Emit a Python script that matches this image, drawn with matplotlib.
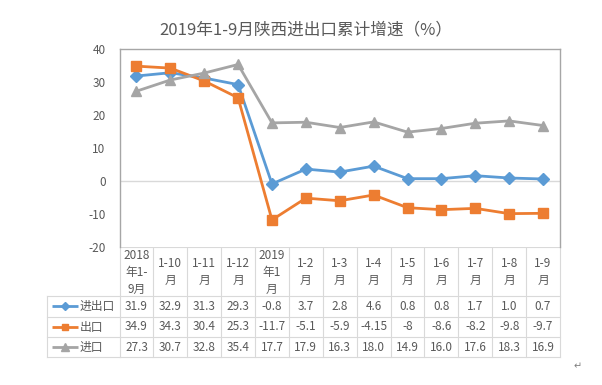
import matplotlib
matplotlib.use('Agg')
import matplotlib.pyplot as plt
import matplotlib.transforms as mtransforms

plt.rcParams['font.family'] = ['Noto Sans CJK SC', 'DejaVu Sans']

# ---------------- data ----------------
categories = ["2018\n年1-\n9月", "1-10\n月", "1-11\n月", "1-12\n月", "2019\n年1\n月",
              "1-2\n月", "1-3\n月", "1-4\n月", "1-5\n月", "1-6\n月", "1-7\n月", "1-8\n月", "1-9\n月"]
series_names = ["进出口", "出口", "进口"]
total_vals = [31.9, 32.9, 31.3, 29.3, -0.8, 3.7, 2.8, 4.6, 0.8, 0.8, 1.7, 1.0, 0.7]
export_vals = [34.9, 34.3, 30.4, 25.3, -11.7, -5.1, -5.9, -4.15, -8, -8.6, -8.2, -9.8, -9.7]
import_vals = [27.3, 30.7, 32.8, 35.4, 17.7, 17.9, 16.3, 18.0, 14.9, 16.0, 17.6, 18.3, 16.9]
y_ticks = [-20, -10, 0, 10, 20, 30, 40]
title = "2019年1-9月陕西进出口累计增速（%）"

series = [total_vals, export_vals, import_vals]
colors = ["#5b9bd5", "#ed7d31", "#a5a5a5"]
markers = ["D", "s", "^"]
msizes = [6, 6.5, 7.5]

TXT = "#595959"
GRID = "#d9d9d9"
FRAME = "#a6a6a6"

W, H = 602, 385
fig = plt.figure(figsize=(W / 100, H / 100), dpi=100)
fig.patch.set_facecolor("white")

# plot area in pixel coordinates
pl, pr, pt, pb = 119.5, 560.0, 49.3, 247.3
ax = fig.add_axes([pl / W, 1 - pb / H, (pr - pl) / W, (pb - pt) / H])
n = len(categories)
x = list(range(n))
ax.set_xlim(-0.5, n - 0.5)
ax.set_ylim(-20, 40)
ax.set_yticks(y_ticks)
ax.set_yticklabels([str(v) for v in y_ticks])
ax.tick_params(axis='y', length=0, pad=10, labelsize=8.5, labelcolor=TXT)
ax.set_xticks([])
for s in ["top", "left", "right"]:
    ax.spines[s].set_color(FRAME)
    ax.spines[s].set_linewidth(1.0)
ax.spines["bottom"].set_visible(False)
ax.axhline(0, color=GRID, lw=1.0, zorder=1)

for vals, c, m, ms in zip(series, colors, markers, msizes):
    ax.plot(x, vals, color=c, lw=2.0, marker=m, markersize=ms,
            markerfacecolor=c, markeredgecolor=c, zorder=3, clip_on=False)

# overlay axes in pixel coordinates for title, legend, table
ov = fig.add_axes([0, 0, 1, 1], zorder=-1)
ov.set_xlim(0, W)
ov.set_ylim(H, 0)
ov.axis('off')

ov.text(305.5, 30, title, ha='center', va='center', fontsize=12, color=TXT)

# legend
leg_y = [65, 88.3, 110.7]
for name, c, m, ms, yy in zip(series_names, colors, markers, msizes, leg_y):
    ov.plot([497, 524], [yy, yy], color=c, lw=2.0, solid_capstyle='butt')
    ov.plot([510.5], [yy], marker=m, color=c, markersize=ms * 0.8, lw=0)
    ov.text(526, yy, name, ha='left', va='center', fontsize=8.5, color=TXT)

# data table
bt = mtransforms.blended_transform_factory(ax.transData, ov.transData)
row_top = [296.0, 316.7, 337.3]
row_bot = [316.7, 337.3, 357.3]
tab_left = 47.3

# category labels row
ov.plot([-0.5, n - 0.5], [pb, pb], color=GRID, lw=0.8, transform=bt, clip_on=False)
for i, lab in enumerate(categories):
    ov.text(i, (pb + 296.0) / 2 + 0.5, lab, ha='center', va='center', fontsize=8.5,
            color=TXT, linespacing=1.38, transform=bt)
# vertical lines
for k in range(n + 1):
    ov.plot([k - 0.5, k - 0.5], [pb, row_bot[-1]], color=GRID, lw=0.8,
            transform=bt, clip_on=False)
ov.plot([tab_left, tab_left], [row_top[0], row_bot[-1]], color=GRID, lw=0.8)
# horizontal lines
for yy in [row_top[0]] + row_bot:
    ov.plot([tab_left, pl], [yy, yy], color=GRID, lw=0.8)
    ov.plot([-0.5, n - 0.5], [yy, yy], color=GRID, lw=0.8, transform=bt, clip_on=False)

for r, (name, vals, c, m, ms) in enumerate(zip(series_names, series, colors, markers, msizes)):
    yc = (row_top[r] + row_bot[r]) / 2
    ov.plot([51.7, 78.3], [yc, yc], color=c, lw=2.0, solid_capstyle='butt')
    ov.plot([64.5], [yc], marker=m, color=c, markersize=ms * 0.7, lw=0)
    ov.text(80, yc, name, ha='left', va='center', fontsize=8.5, color=TXT)
    for i, v in enumerate(vals):
        ov.text(i, yc, str(v), ha='center', va='center', fontsize=8.5, color=TXT,
                transform=bt)

ov.text(578, 366, "↵", ha='center', va='center', fontsize=7, color="#7f7f7f",
        family=['DejaVu Sans'])

fig.savefig("out.png", dpi=100)
